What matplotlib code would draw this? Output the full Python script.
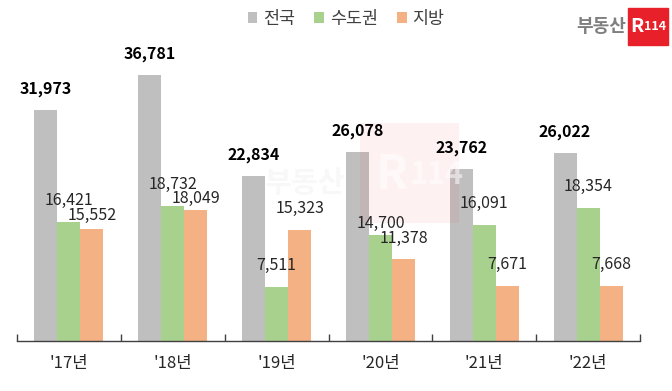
import matplotlib
matplotlib.use("Agg")
import matplotlib.pyplot as plt
from matplotlib.patches import Rectangle
import numpy as np

plt.rcParams['font.family'] = ['Noto Sans CJK KR', 'DejaVu Sans']

years = ["'17년", "'18년", "'19년", "'20년", "'21년", "'22년"]
series_names = ["전국", "수도권", "지방"]
nation = [31973, 36781, 22834, 26078, 23762, 26022]
capital = [16421, 18732, 7511, 14700, 16091, 18354]
local = [15552, 18049, 15323, 11378, 7671, 7668]

colors = ["#bfbfbf", "#a9d18e", "#f4b183"]
# label vertical gap (pixels) above bar top, per series/per group
label_gap = [
    [13, 13, 13, 13, 13, 13],
    [13, 13, 13, 3, 13, 13],
    [5, 4, 13, 12, 13, 13],
]

W, H = 672, 391
fig = plt.figure(figsize=(W / 100, H / 100), dpi=100)
ax = fig.add_axes([17 / W, (H - 341) / H, (640 - 17) / W, (341 - 30) / H])

x = np.arange(len(years))
bw = 0.222
data = [nation, capital, local]
offs = [-bw, 0, bw]
for i, (vals, c, o) in enumerate(zip(data, colors, offs)):
    bars = ax.bar(x + o, vals, width=bw, color=c, label=series_names[i], zorder=2)
    for j, (b, v) in enumerate(zip(bars, vals)):
        ax.annotate(f"{v:,}", (b.get_x() + b.get_width() / 2, v),
                    xytext=(0, label_gap[i][j] * 0.72), textcoords="offset points",
                    ha="center", va="bottom", fontsize=11.5,
                    fontweight="bold" if i == 0 else "normal",
                    color="#000000" if i == 0 else "#262626", zorder=6)

ax.set_xlim(-0.5, len(years) - 0.5)
ax.set_ylim(0, 43000)
for s in ["top", "right", "left"]:
    ax.spines[s].set_visible(False)
ax.spines["bottom"].set_color("#404040")
ax.spines["bottom"].set_linewidth(1.0)
ax.set_yticks([])
ax.set_xticks(x)
ax.set_xticklabels(years, fontsize=12, color="#262626")
ax.tick_params(axis="x", which="major", length=0, pad=10)
ax.set_xticks(np.arange(-0.5, len(years)), minor=True)
ax.tick_params(axis="x", which="minor", direction="in", length=5, color="#404040", width=1)

leg = fig.legend(loc="upper center", bbox_to_anchor=(0.515, 1.015), ncol=3, frameon=False,
                 fontsize=12.5, handlelength=0.55, handleheight=0.55, handletextpad=0.35,
                 columnspacing=1.1, labelcolor="#404040")

# logo top-right
fig.patches.append(Rectangle((628 / W, (H - 45) / H), 40 / W, 37 / H,
                             transform=fig.transFigure, color="#e8202a", zorder=3))
fig.text(637 / W, (H - 27) / H, "R", color="white", fontsize=14, fontweight="bold",
         ha="center", va="center", zorder=4)
fig.text(655 / W, (H - 27) / H, "114", color="white", fontsize=9, fontweight="bold",
         ha="center", va="center", zorder=4)
fig.text(601 / W, (H - 27) / H, "부동산", color="#7f7f7f", fontsize=13, fontweight="bold",
         ha="center", va="center")

# watermark (faint, over bars, under labels)
ax.add_patch(Rectangle((360 / W, (H - 223) / H), 99 / W, 100 / H,
                       transform=fig.transFigure, color="#e8202a", alpha=0.06, zorder=3,
                       linewidth=0))
ax.text(392 / W, (H - 175) / H, "R", color="white", fontsize=34, fontweight="bold",
        ha="center", va="center", alpha=0.55, zorder=4, transform=fig.transFigure)
ax.text(437 / W, (H - 175) / H, "114", color="white", fontsize=22, fontweight="bold",
        ha="center", va="center", alpha=0.55, zorder=4, transform=fig.transFigure)
ax.text(305 / W, (H - 183) / H, "부동산", color="#b0b0b0", fontsize=21, fontweight="bold",
        ha="center", va="center", alpha=0.08, zorder=4, transform=fig.transFigure)

fig.savefig("out.png", dpi=100)
